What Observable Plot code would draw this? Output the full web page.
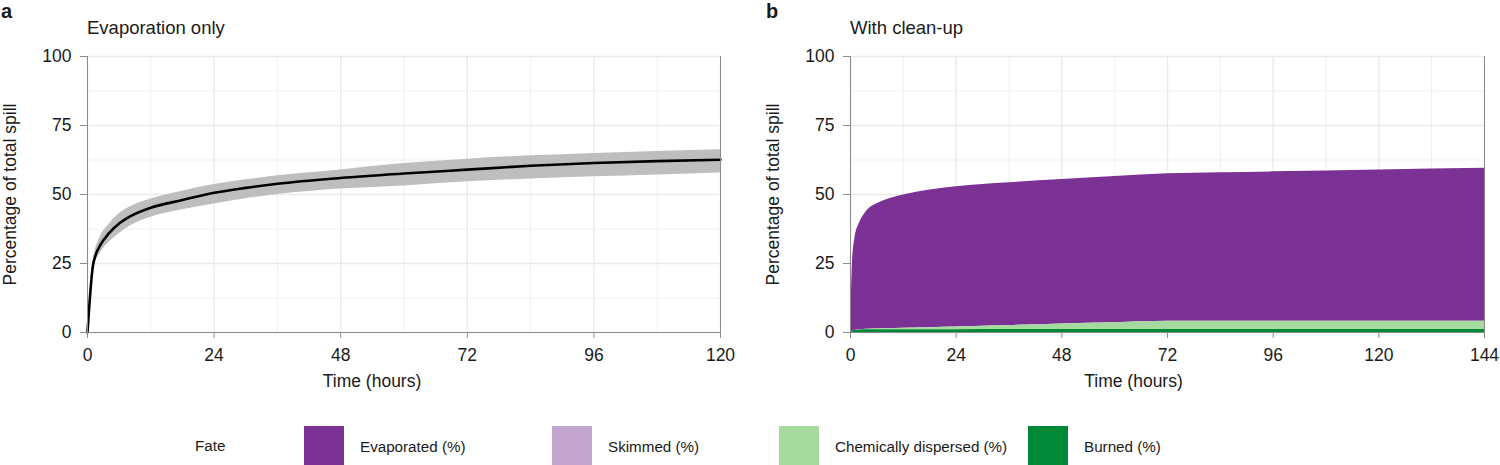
<!DOCTYPE html>
<html>
<head>
<meta charset="utf-8">
<script src="https://cdn.jsdelivr.net/npm/d3@7"></script>
<script src="https://cdn.jsdelivr.net/npm/@observablehq/plot@0.6"></script>
<style>
  body { margin: 0; background: #fff; font-family: "Liberation Sans", Arial, Helvetica, sans-serif; color: #1a1a1a; }
  #root { position: relative; width: 1500px; height: 465px; overflow: hidden; }
  .abs { position: absolute; }
  .tag { font-weight: bold; font-size: 20px; line-height: 1; }
  .ptitle { font-size: 18.5px; line-height: 1; }
  #legend { left: 0; top: 426px; height: 40px; width: 1500px; font-size: 15.2px; }
  .lg-title { position: absolute; left: 195px; top: 11px; }
  .lg-item { position: absolute; top: 0; display: flex; align-items: center; height: 40px; }
  .lg-key { width: 40px; height: 40px; margin-right: 16px; }
</style>
</head>
<body>
<div id="root">
  <div class="abs tag" style="left:1px;top:1px">a</div>
  <div class="abs ptitle" style="left:87px;top:19px">Evaporation only</div>
  <div class="abs tag" style="left:766px;top:1px">b</div>
  <div class="abs ptitle" style="left:850px;top:19px">With clean-up</div>
  <div id="pa" class="abs" style="left:0;top:40px"></div>
  <div id="pb" class="abs" style="left:765px;top:40px"></div>
  <div id="legend" class="abs"></div>
</div>
<script>
// ---------- Panel a: evaporation only ----------
const timeA = [0, 1, 1.5, 2.5, 4, 6, 8, 12, 18, 24, 30, 36, 48, 60, 72, 84, 96, 108, 120];
const meanA = [0, 23.8, 27.8, 31.9, 35.8, 39.5, 42.0, 45.2, 48.0, 50.6, 52.4, 53.9, 56.0, 57.6, 59.0, 60.4, 61.4, 62.1, 62.6];
const lowA  = [0, 22.0, 25.5, 29.0, 32.5, 35.8, 38.5, 41.8, 44.5, 46.6, 48.5, 50.0, 52.0, 53.1, 54.6, 55.6, 56.4, 57.1, 57.8];
const highA = [0, 25.5, 30.0, 35.0, 39.0, 43.0, 45.5, 48.4, 51.2, 53.6, 55.3, 56.8, 58.9, 61.2, 62.8, 64.0, 64.9, 65.6, 66.2];

// ---------- Panel b: with clean-up ----------
const timeB = [0, 0.5, 1, 2, 3, 4, 6, 8, 12, 18, 24, 36, 48, 60, 72, 96, 120, 144];
const evaporated = [0, 26.6, 33.3, 38.5, 41.4, 43.4, 45.4, 46.7, 48.3, 49.9, 50.8, 51.7, 52.3, 53.0, 53.4, 54.1, 54.8, 55.4];
const skimmed    = [0, 0, 0, 0, 0, 0, 0, 0, 0, 0, 0, 0, 0, 0, 0, 0, 0, 0];
const chemDispersed = [0, 0.02, 0.04, 0.08, 0.12, 0.17, 0.25, 0.33, 0.5, 0.75, 1.0, 1.5, 2.05, 2.5, 3.0, 3.0, 3.0, 3.0];
const burned     = [0, 0.4, 0.7, 0.9, 1.0, 1.0, 1.0, 1.0, 1.0, 1.0, 1.0, 1.05, 1.05, 1.05, 1.1, 1.1, 1.1, 1.1];

const fates = ["Evaporated (%)", "Skimmed (%)", "Chemically dispersed (%)", "Burned (%)"];
const fateColors = ["#7B3294", "#C2A5CF", "#A6DBA0", "#008837"];
const stackOrder = ["Burned (%)", "Chemically dispersed (%)", "Skimmed (%)", "Evaporated (%)"];

// ---------- ticks & labels ----------
const yTicks = [0, 25, 50, 75, 100];
const yMinor = [12.5, 37.5, 62.5, 87.5];
const xTicksA = [0, 24, 48, 72, 96, 120];
const xMinorA = [12, 36, 60, 84, 108];
const xTicksB = [0, 24, 48, 72, 96, 120, 144];
const xMinorB = [12, 36, 60, 84, 108, 132];
const xTitle = "Time (hours)";
const yTitle = "Percentage of total spill";

const rowsA = timeA.map((t, i) => ({t, mean: meanA[i], lo: lowA[i], hi: highA[i]}));
const seriesB = [evaporated, skimmed, chemDispersed, burned];
const rowsB = [];
fates.forEach((f, k) => timeB.forEach((t, i) => rowsB.push({t, fate: f, v: seriesB[k][i]})));

const FONT = '"Liberation Sans", Arial, Helvetica, sans-serif';
const FS = 17.5;
const GRID = "#ebebeb";
const AXIS = "#8a8a8a";

function gridMarks(xTicks, xMinor) {
  return [
    Plot.ruleY(yMinor, {stroke: GRID, strokeWidth: 0.8}),
    Plot.ruleX(xMinor, {stroke: GRID, strokeWidth: 0.8}),
    Plot.ruleY(yTicks, {stroke: GRID, strokeWidth: 1.4}),
    Plot.ruleX(xTicks, {stroke: GRID, strokeWidth: 1.4})
  ];
}
function axisMarks(xDomainMax, xTicks, titleDx) {
  return [
    Plot.ruleY([0], {stroke: AXIS, strokeWidth: 1}),
    Plot.ruleX([0, xDomainMax], {stroke: AXIS, strokeWidth: 1}),
    Plot.axisX({ticks: xTicks, tickSize: 6, tickPadding: 10, stroke: AXIS, fill: "#1a1a1a", fontSize: FS, label: null}),
    Plot.axisY({ticks: yTicks, tickSize: 7, tickPadding: 9, stroke: AXIS, fill: "#1a1a1a", fontSize: FS,
      label: yTitle, labelAnchor: "center", labelArrow: "none", labelOffset: 84}),
    Plot.text([xTitle], {text: d => d, frameAnchor: "bottom", dx: titleDx, dy: 54, fontSize: FS, fill: "#1a1a1a"})
  ];
}

const common = {
  height: 370, marginTop: 16, marginBottom: 78,
  style: {fontFamily: FONT, fontSize: FS + "px", color: "#1a1a1a", background: "transparent", overflow: "visible"},
  y: {domain: [0, 100]}
};

const plotA = Plot.plot({
  ...common,
  width: 765, marginLeft: 87, marginRight: 45,
  x: {domain: [0, 120]},
  marks: [
    ...gridMarks(xTicksA, xMinorA),
    Plot.areaY(rowsA, {x: "t", y1: "lo", y2: "hi", fill: "#bebebe", curve: "monotone-x"}),
    Plot.lineY(rowsA, {x: "t", y: "mean", stroke: "#000", strokeWidth: 2.6, curve: "monotone-x"}),
    ...axisMarks(120, xTicksA, -32)
  ]
});
document.getElementById("pa").appendChild(plotA);

const plotB = Plot.plot({
  ...common,
  width: 735, marginLeft: 85, marginRight: 16,
  x: {domain: [0, 144]},
  color: {domain: fates, range: fateColors},
  marks: [
    ...gridMarks(xTicksB, xMinorB),
    Plot.areaY(rowsB, {x: "t", y: "v", z: "fate", fill: "fate", order: stackOrder, curve: "monotone-x"}),
    ...axisMarks(144, xTicksB, -34)
  ]
});
document.getElementById("pb").appendChild(plotB);

// ---------- legend ----------
const legend = document.getElementById("legend");
const title = document.createElement("div");
title.className = "lg-title";
title.textContent = "Fate";
legend.appendChild(title);
const keyLefts = [304, 552, 779, 1028];
fates.forEach((f, i) => {
  const item = document.createElement("div");
  item.className = "lg-item";
  item.style.left = keyLefts[i] + "px";
  const key = document.createElement("div");
  key.className = "lg-key";
  key.style.background = fateColors[i];
  const lab = document.createElement("span");
  lab.textContent = f;
  item.appendChild(key);
  item.appendChild(lab);
  legend.appendChild(item);
});
</script>
</body>
</html>
